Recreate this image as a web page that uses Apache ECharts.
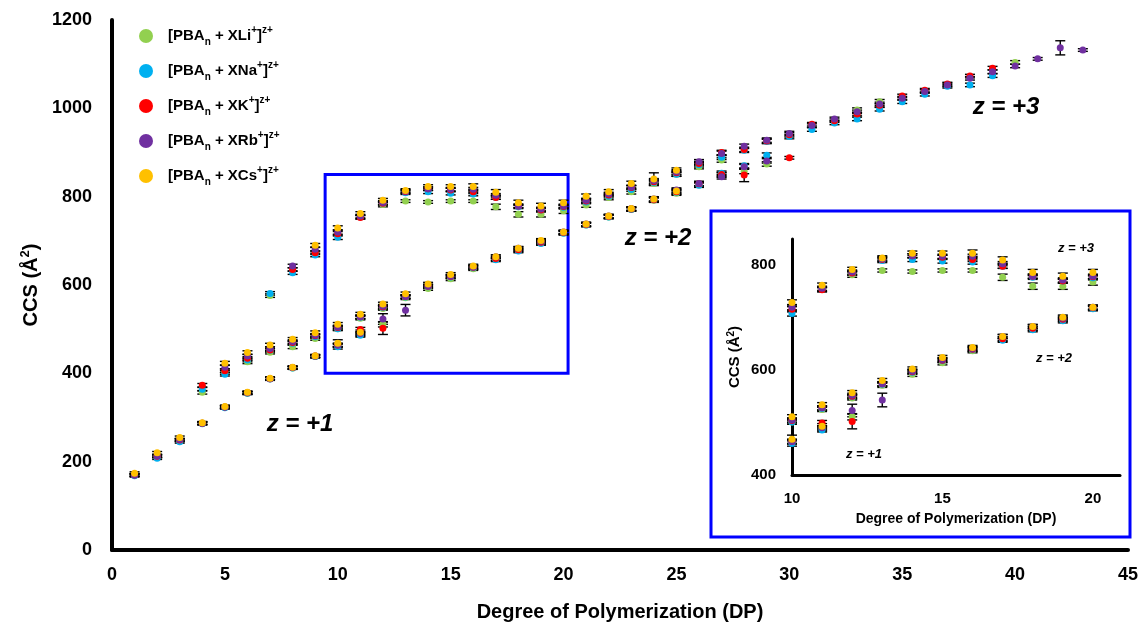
<!DOCTYPE html>
<html><head><meta charset="utf-8">
<script src="https://cdn.jsdelivr.net/npm/echarts@6/dist/echarts.min.js"></script>
<style>html,body{margin:0;padding:0;background:#fff}#c{width:1142px;height:628px}</style>
</head><body><div id="c"></div>
<script>
// rows: [DP, CCS (Å²), error]
const liZ1=[[1,170,3],[2,212,3],[3,248,3],[4,287,3],[5,323,3],[6,355,3],[7,388,3],[8,412,3],[9,438,3],[10,463,4],[11,488,4],[12,511,6]];
const liZ2=[[4,357,4],[5,402,4],[6,426,4],[7,448,4],[8,460,4],[9,479,4],[10,501,4],[11,525,4],[12,547,4],[13,571,4],[14,592,4],[15,614,4],[16,637,4],[17,659,4],[18,679,4],[19,696,4],[20,718,4],[21,736,4],[22,754,4],[23,771,4],[24,792,5],[25,808,5],[26,827,5],[27,849,5],[28,857,5],[29,874,5]];
const liZ3=[[7,576,4],[12,782,5],[13,790,3],[14,788,3],[15,790,3],[16,790,3],[17,777,6],[18,760,6],[19,760,6],[20,768,6],[21,781,5],[22,798,5],[23,811,5],[24,830,5],[25,851,5],[26,868,5],[27,883,5],[33,996,5],[34,1015,5],[40,1104,4]];

const naZ1=[[1,168,3],[2,208,3],[3,245,3],[4,286,3],[5,322,3],[6,355,3],[7,387,3],[8,412,3],[9,438,3],[10,460,5],[11,486,4]];
const naZ2=[[4,364,4],[5,398,4],[6,430,4],[7,452,4],[8,468,4],[9,483,4],[10,501,4],[11,527,4],[12,549,4],[13,573,4],[14,596,4],[15,618,4],[16,639,4],[17,657,4],[18,677,4],[19,694,4],[20,717,4],[21,736,4],[22,754,4],[23,771,4],[24,793,5],[25,810,5],[26,826,5],[27,853,5],[28,870,5],[29,894,5]];
const naZ3=[[7,581,4],[8,628,4],[9,668,4],[10,708,5],[11,754,4],[12,785,4],[13,809,4],[14,811,4],[15,808,4],[16,806,4],[17,798,4],[18,777,4],[19,770,4],[20,776,4],[21,788,4],[22,801,4],[23,816,4],[24,832,5],[25,851,5],[26,872,5],[27,889,5],[28,905,5],[29,925,5],[30,936,5],[31,952,4],[32,967,4],[33,976,4],[34,998,4],[35,1015,4],[36,1032,4],[37,1050,4],[38,1053,4],[39,1074,4]];

const kZ1=[[1,170,3],[2,212,3],[3,249,3],[4,287,3],[5,324,3],[6,356,3],[7,388,3],[8,413,3],[9,439,3],[10,464,4],[11,499,5],[12,502,14]];
const kZ2=[[4,373,4],[5,406,4],[6,434,4],[7,453,4],[8,470,4],[9,485,4],[10,504,4],[11,528,4],[12,550,4],[13,574,4],[14,597,4],[15,619,4],[16,640,4],[17,660,4],[18,680,4],[19,697,4],[20,719,4],[21,737,4],[22,755,4],[23,772,4],[24,793,5],[25,811,5],[26,829,5],[27,850,5],[28,849,15],[30,888,3]];
const kZ3=[[8,635,4],[9,673,4],[10,716,5],[11,753,4],[12,785,4],[13,811,4],[14,818,4],[15,815,4],[16,811,4],[17,798,4],[18,779,4],[19,770,4],[20,778,4],[21,790,4],[22,804,4],[23,821,4],[24,834,5],[25,854,5],[26,875,5],[27,900,5],[28,907,5],[29,926,5],[30,940,5],[31,964,4],[32,972,4],[33,987,4],[34,1007,4],[35,1028,4],[36,1041,4],[37,1055,4],[38,1073,4],[39,1091,4]];

const rbZ1=[[1,170,3],[2,213,3],[3,250,3],[4,287,3],[5,324,3],[6,356,3],[7,388,3],[8,413,3],[9,439,3],[10,464,4],[11,490,4],[12,523,12],[13,543,13]];
const rbZ2=[[5,414,4],[6,439,4],[7,456,4],[8,472,4],[9,486,4],[10,505,4],[11,528,4],[12,552,4],[13,574,4],[14,598,4],[15,620,4],[16,641,4],[17,664,4],[18,683,4],[19,699,4],[20,720,4],[21,738,4],[22,756,4],[23,773,4],[24,795,5],[25,815,5],[26,830,5],[27,845,5],[28,868,5],[29,881,5]];
const rbZ3=[[8,643,4],[9,681,4],[10,720,5],[11,756,4],[12,787,4],[13,812,4],[14,818,4],[15,817,4],[16,817,4],[17,803,4],[18,779,4],[19,772,4],[20,779,4],[21,792,4],[22,806,4],[23,822,4],[24,836,5],[25,856,5],[26,879,5],[27,898,5],[28,914,5],[29,928,5],[30,943,5],[31,961,4],[32,976,4],[33,992,4],[34,1010,4],[35,1023,4],[36,1038,4],[37,1053,4],[38,1068,4],[39,1083,4],[40,1096,4],[41,1112,3],[42,1137,16],[43,1132,3]];

const csZ1=[[1,174,3],[2,220,3],[3,255,3],[4,288,3],[5,325,3],[6,357,3],[7,389,3],[8,414,3],[9,440,3],[10,468,8],[11,493,5]];
const csZ2=[[5,423,4],[6,447,4],[7,464,4],[8,477,4],[9,492,4],[10,511,4],[11,534,4],[12,557,4],[13,580,4],[14,602,4],[15,624,4],[16,643,4],[17,664,4],[18,683,4],[19,701,4],[20,720,4],[21,738,4],[22,756,4],[23,773,4],[24,795,5],[25,813,5]];
const csZ3=[[9,690,4],[10,729,5],[11,762,4],[12,792,4],[13,814,4],[14,823,4],[15,823,4],[16,823,6],[17,810,6],[18,786,6],[19,779,6],[20,786,6],[21,801,5],[22,811,5],[23,830,5],[24,840,14],[25,860,5]];

const metalNames=['Li','Na','K','Rb','Cs'];
const metalColors=['#92D050','#00B0F0','#FF0000','#7030A0','#FFC000'];
const metalData=[[liZ1,liZ2,liZ3],[naZ1,naZ2,naZ3],[kZ1,kZ2,kZ3],[rbZ1,rbZ2,rbZ3],[csZ1,csZ2,csZ3]];
const mainX=[0,45,5], mainY=[0,1200,200];
const insetX=[10,20.9,5], insetY=[400,850,200];
const zoomBox=[[9.44,400],[20.2,850]];

const FONT='Liberation Sans';
function errItem(hw){
  return function(params, api){
    const x=api.value(0), y=api.value(1), e=api.value(2);
    const p1=api.coord([x,y+e]), p2=api.coord([x,y-e]);
    const st={stroke:'#000', lineWidth:1.4};
    return {type:'group', children:[
      {type:'line', shape:{x1:p1[0],y1:p1[1],x2:p2[0],y2:p2[1]}, style:st},
      {type:'line', shape:{x1:p1[0]-hw,y1:p1[1],x2:p1[0]+hw,y2:p1[1]}, style:st},
      {type:'line', shape:{x1:p2[0]-hw,y1:p2[1],x2:p2[0]+hw,y2:p2[1]}, style:st}
    ]};
  };
}
const inInset=d=>d[0]>=insetX[0]&&d[0]<=20.5&&d[1]>=insetY[0]&&d[1]<=insetY[1];
const series=[];
metalNames.forEach((n,i)=>{
  const all=[].concat(...metalData[i]);
  series.push({type:'custom',name:'err'+n,xAxisIndex:0,yAxisIndex:0,renderItem:errItem(5),encode:{x:0,y:1},data:all,silent:true,z:3});
  series.push({type:'custom',name:'errI'+n,xAxisIndex:1,yAxisIndex:1,renderItem:errItem(5),encode:{x:0,y:1},data:all.filter(inInset),silent:true,z:3});
});
metalNames.forEach((n,i)=>{
  const all=[].concat(...metalData[i]);
  const s={type:'scatter',name:n,xAxisIndex:0,yAxisIndex:0,data:all,symbol:'circle',symbolSize:7,itemStyle:{color:metalColors[i],opacity:1},z:4};
  if(i===0){
    s.markArea={silent:true,itemStyle:{color:'rgba(0,0,0,0)',borderColor:'#0000FF',borderWidth:3},
      data:[[{coord:zoomBox[0]},{coord:zoomBox[1]}]]};
  }
  series.push(s);
  series.push({type:'scatter',name:n,xAxisIndex:1,yAxisIndex:1,data:all.filter(inInset),symbol:'circle',symbolSize:7,itemStyle:{color:metalColors[i],opacity:1},z:4});
});

const axisBase=(fs,margin)=>({
  axisLine:{show:true,onZero:false,lineStyle:{color:'#000',width:4}},
  axisTick:{show:false},splitLine:{show:false},
  axisLabel:{color:'#000',fontSize:fs,fontWeight:'bold',fontFamily:FONT,margin:margin,formatter:v=>String(v)}
});
const supRich={
  sup:{fontSize:10,fontWeight:'bold',fontFamily:FONT,color:'#000',verticalAlign:'top',lineHeight:22},
  sub:{fontSize:10,fontWeight:'bold',fontFamily:FONT,color:'#000',verticalAlign:'bottom',lineHeight:22},
  b:{fontSize:15,fontWeight:'bold',fontFamily:FONT,color:'#000',lineHeight:22}
};
const option={
  animation:false,
  backgroundColor:'#fff',
  legend:{
    data:metalNames, orient:'vertical', left:134, top:20, itemGap:13,
    icon:'circle', itemWidth:14, itemHeight:14,
    formatter:n=>'{b|[PBA}{sub|n}{b| + X'+n+'}{sup|+}{b|]}{sup|z+}',
    textStyle:{padding:[0,0,0,10],rich:supRich}
  },
  grid:[
    {left:112,right:14,top:20,bottom:78},
    {left:792,top:239,width:328,height:236}
  ],
  xAxis:[
    Object.assign(axisBase(18,16),{type:'value',gridIndex:0,min:mainX[0],max:mainX[1],interval:mainX[2],
      name:'Degree of Polymerization (DP)',nameLocation:'middle',nameGap:52,
      nameTextStyle:{fontSize:20,fontWeight:'bold',fontFamily:FONT,color:'#000'}}),
    Object.assign(axisBase(15,16),{type:'value',gridIndex:1,min:insetX[0],max:insetX[1],interval:insetX[2],
      name:'Degree of Polymerization (DP)',nameLocation:'middle',nameGap:37,
      nameTextStyle:{fontSize:14,fontWeight:'bold',fontFamily:FONT,color:'#000'}})
  ],
  yAxis:[
    Object.assign(axisBase(18,20),{type:'value',gridIndex:0,min:mainY[0],max:mainY[1],interval:mainY[2],
      name:'CCS (Å{s|2})',nameLocation:'middle',nameGap:66,nameRotate:90,
      nameTextStyle:{fontSize:20,fontWeight:'bold',fontFamily:FONT,color:'#000',
        rich:{s:{fontSize:13,fontWeight:'bold',fontFamily:FONT,verticalAlign:'top',lineHeight:24}}}}),
    Object.assign(axisBase(15,16),{type:'value',gridIndex:1,min:insetY[0],max:insetY[1],interval:insetY[2],
      name:'CCS (Å{s|2})',nameLocation:'middle',nameGap:48,nameRotate:90,
      nameTextStyle:{fontSize:15,fontWeight:'bold',fontFamily:FONT,color:'#000',
        rich:{s:{fontSize:10,fontWeight:'bold',fontFamily:FONT,verticalAlign:'top',lineHeight:18}}}})
  ],
  graphic:[
    {type:'rect',shape:{x:711,y:211,width:419,height:326},style:{fill:'none',stroke:'#0000FF',lineWidth:3},silent:true},
    {type:'text',x:300,y:424,style:{text:'z = +1',fill:'#000',font:'italic bold 24px '+FONT,align:'center',verticalAlign:'middle'}},
    {type:'text',x:658,y:238,style:{text:'z = +2',fill:'#000',font:'italic bold 24px '+FONT,align:'center',verticalAlign:'middle'}},
    {type:'text',x:1006,y:107,style:{text:'z = +3',fill:'#000',font:'italic bold 24px '+FONT,align:'center',verticalAlign:'middle'}},
    {type:'text',x:1076,y:248,style:{text:'z = +3',fill:'#000',font:'italic bold 13px '+FONT,align:'center',verticalAlign:'middle'}},
    {type:'text',x:1054,y:358,style:{text:'z = +2',fill:'#000',font:'italic bold 13px '+FONT,align:'center',verticalAlign:'middle'}},
    {type:'text',x:864,y:454,style:{text:'z = +1',fill:'#000',font:'italic bold 13px '+FONT,align:'center',verticalAlign:'middle'}}
  ],
  series:series
};
option.xAxis[1].axisLabel.showMaxLabel=false;
option.yAxis[1].axisLabel.showMaxLabel=false;
option.xAxis[1].axisLine.lineStyle.width=3;
option.yAxis[1].axisLine.lineStyle.width=3;
const chart=echarts.init(document.getElementById('c'),null,{renderer:'canvas'});
chart.setOption(option);
</script>
</body></html>
